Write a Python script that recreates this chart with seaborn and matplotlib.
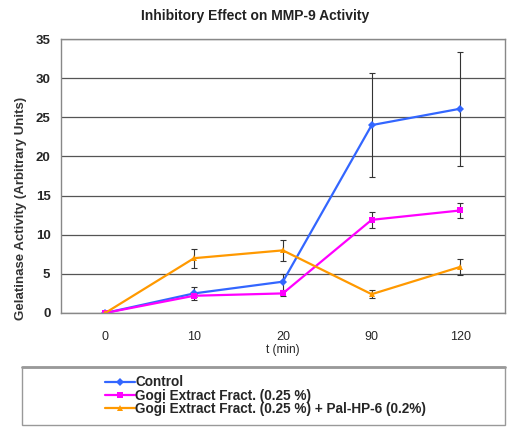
import pandas as pd
import seaborn as sns
import matplotlib.pyplot as plt
from matplotlib.patches import Rectangle

times = ["0", "10", "20", "90", "120"]
control = [0, 2.5, 4.0, 24.0, 26.1]
control_err = [0, 0.8, 1.0, 6.6, 7.3]
gogi = [0, 2.2, 2.5, 11.9, 13.1]
gogi_err = [0, 0.2, 0.3, 1.0, 1.0]
gogi_pal = [0, 7.0, 8.0, 2.4, 5.9]
gogi_pal_err = [0, 1.2, 1.3, 0.5, 1.0]

labels = ["Control", "Gogi Extract Fract. (0.25 %)",
          "Gogi Extract Fract. (0.25 %) + Pal-HP-6 (0.2%)"]
colors = ["#3366FF", "#FF00FF", "#FF9900"]
markers = ["D", "s", "^"]

rows = []
for lab, vals in zip(labels, [control, gogi, gogi_pal]):
    for t, v in zip(times, vals):
        rows.append({"t": t, "value": v, "group": lab})
df = pd.DataFrame(rows)

sns.set_style("white")
plt.rcParams['font.family'] = ['Liberation Sans', 'DejaVu Sans']

fig = plt.figure(figsize=(5.11, 4.32), dpi=100)
ax = fig.add_axes([0.119, 0.2755, 0.869, 0.6342])

sns.lineplot(data=df, x="t", y="value", hue="group", style="group",
             palette=colors, markers=markers, dashes=False, markersize=4,
             markeredgewidth=0, linewidth=1.6, ax=ax, legend=False, sort=False)

for vals, errs in zip([control, gogi, gogi_pal], [control_err, gogi_err, gogi_pal_err]):
    ax.errorbar(times, vals, yerr=errs, fmt="none", ecolor="#333333",
                elinewidth=0.8, capsize=2.5, capthick=0.8, zorder=1)

ax.set_xlim(-0.5, 4.5)
ax.set_ylim(0, 35)
ax.set_yticks(range(0, 36, 5))
ax.yaxis.grid(True, color="#555555", linewidth=0.9)
ax.set_axisbelow(True)
for s in ax.spines.values():
    s.set_color("#888888")
    s.set_linewidth(1.0)

# Excel-style ticks between categories
ax.set_xticks(range(len(times)))
ax.set_xticklabels(times)
ax.set_xticks([i + 0.5 for i in range(-1, len(times))], minor=True)
ax.tick_params(axis="x", which="major", length=0, pad=13, labelsize=9)
ax.tick_params(axis="x", which="minor", length=4, color="#666666", direction="out")
ax.tick_params(axis="y", length=4, color="#666666", direction="out", labelsize=9.5)
for lbl in ax.get_yticklabels():
    lbl.set_fontweight("bold")

ax.set_xlabel("t (min)", fontsize=8.5, labelpad=1)
ax.set_ylabel("Gelatinase Activity (Arbitrary Units)", fontsize=9.5,
              fontweight="bold", color="#333333")
ax.yaxis.set_label_coords(-0.077, 0.38)
fig.text(0.5, 0.962, "Inhibitory Effect on MMP-9 Activity", ha="center",
         va="center", fontsize=10, fontweight="bold", color="#222222")

# Legend box below the plot
fig.patches.append(Rectangle((0.043, 0.016), 0.945, 0.134, transform=fig.transFigure,
                             facecolor="white", edgecolor="#999999", linewidth=1.0))
fig.lines.append(plt.Line2D([0.043, 0.988], [0.150, 0.150], transform=fig.transFigure,
                            color="#999999", linewidth=2.0))
handles = [plt.Line2D([], [], color=c, marker=m, markersize=4, linewidth=1.6,
                      markeredgewidth=0) for c, m in zip(colors, markers)]
fig.legend(handles, labels, loc="upper left", bbox_to_anchor=(0.186, 0.153),
           frameon=False, handlelength=2.2, handletextpad=0.05,
           labelspacing=-0.05, borderpad=0.2, prop={"weight": "bold", "size": 9.8})

fig.savefig("out.png", dpi=100)
